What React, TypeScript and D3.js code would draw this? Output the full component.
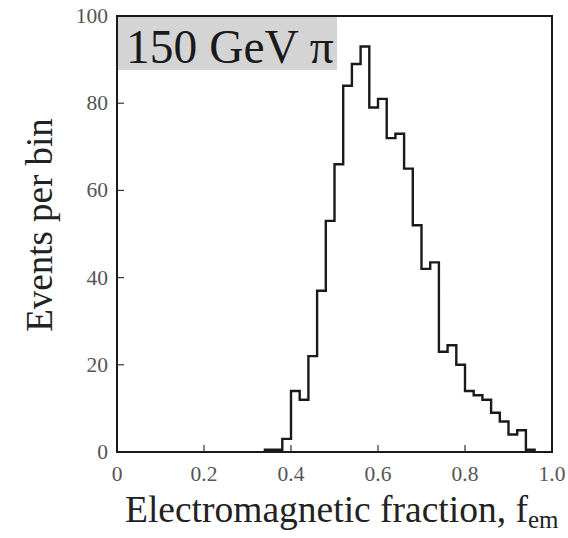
import React from "react";
import * as d3 from "d3";

// Histogram of the electromagnetic fraction for 150 GeV pions
const binLow = [
  0.34, 0.36, 0.38, 0.40, 0.42, 0.44, 0.46, 0.48, 0.50, 0.52, 0.54, 0.56, 0.58,
  0.60, 0.62, 0.64, 0.66, 0.68, 0.70, 0.72, 0.74, 0.76, 0.78, 0.80, 0.82, 0.84,
  0.86, 0.88, 0.90, 0.92, 0.94,
];
const binHigh = [
  0.36, 0.38, 0.40, 0.42, 0.44, 0.46, 0.48, 0.50, 0.52, 0.54, 0.56, 0.58, 0.60,
  0.62, 0.64, 0.66, 0.68, 0.70, 0.72, 0.74, 0.76, 0.78, 0.80, 0.82, 0.84, 0.86,
  0.88, 0.90, 0.92, 0.94, 0.96,
];
const eventsPerBin = [
  0.5, 0.5, 3, 14, 12, 22, 37, 53, 66, 84, 89, 93, 79, 81, 72, 73, 65, 52, 42,
  43.5, 23, 24.5, 20, 14, 13, 12, 9, 7, 4, 5, 0.5,
];

const xTicks = [0, 0.2, 0.4, 0.6, 0.8, 1.0];
const xTickLabels = ["0", "0.2", "0.4", "0.6", "0.8", "1.0"];
const yTicks = [0, 20, 40, 60, 80, 100];
const yTickLabels = ["0", "20", "40", "60", "80", "100"];

const W = 568;
const H = 538;
const M = { left: 117, right: 16, top: 16, bottom: 86 };
const SERIF = "'Liberation Serif', 'Times New Roman', serif";

export default function App() {
  const x = d3.scaleLinear().domain([0, 1]).range([M.left, W - M.right]);
  const y = d3.scaleLinear().domain([0, 100]).range([H - M.bottom, M.top]);

  // Step outline of the histogram
  const path = d3.path();
  path.moveTo(x(binLow[0]), y(0));
  binLow.forEach((lo, i) => {
    path.lineTo(x(lo), y(eventsPerBin[i]));
    path.lineTo(x(binHigh[i]), y(eventsPerBin[i]));
  });
  path.lineTo(x(binHigh[binHigh.length - 1]), y(0));

  const x0 = x(0);
  const x1 = x(1);
  const yb = y(0);
  const yt = y(100);

  return (
    <svg
      width={W}
      height={H}
      style={{ position: "absolute", left: 0, top: 0, background: "#fff" }}
      fontFamily={SERIF}
    >
      {/* label box */}
      <rect x={x0} y={yt} width={220} height={54} fill="#d4d4d4" />
      <text x={x0 + 9} y={yt + 47} fontSize={47.5} fill="#1a1a1a">
        150 GeV π
      </text>

      {/* histogram */}
      <path
        d={path.toString()}
        fill="none"
        stroke="#1a1a1a"
        strokeWidth={2.4}
        strokeLinejoin="miter"
      />

      {/* inward ticks */}
      {xTicks
        .filter((t) => t > 0 && t < 1)
        .map((t) => (
          <line key={"xt" + t} x1={x(t)} x2={x(t)} y1={yb} y2={yb - 7} stroke="#333" strokeWidth={1.2} />
        ))}
      {yTicks
        .filter((t) => t > 0 && t < 100)
        .map((t) => (
          <line key={"yt" + t} x1={x0} x2={x0 + 7} y1={y(t)} y2={y(t)} stroke="#333" strokeWidth={1.2} />
        ))}

      {/* frame */}
      <rect x={x0} y={yt} width={x1 - x0} height={yb - yt} fill="none" stroke="#1a1a1a" strokeWidth={2} />

      {/* tick labels */}
      {xTicks.map((t, i) => (
        <text key={"xl" + t} x={x(t)} y={yb + 29} fontSize={21.5} fill="#555" textAnchor="middle">
          {xTickLabels[i]}
        </text>
      ))}
      {yTicks.map((t, i) => (
        <text key={"yl" + t} x={x0 - 9} y={y(t) + 7} fontSize={21.5} fill="#555" textAnchor="end">
          {yTickLabels[i]}
        </text>
      ))}

      {/* axis titles */}
      <text
        transform={`translate(${52}, ${225}) rotate(-90)`}
        fontSize={37}
        fill="#222"
        textAnchor="middle"
      >
        Events per bin
      </text>
      <text x={x0 + 8} y={522} fontSize={37.5} fill="#222">
        Electromagnetic fraction, f
        <tspan fontSize={25} dy={6}>em</tspan>
      </text>
    </svg>
  );
}
